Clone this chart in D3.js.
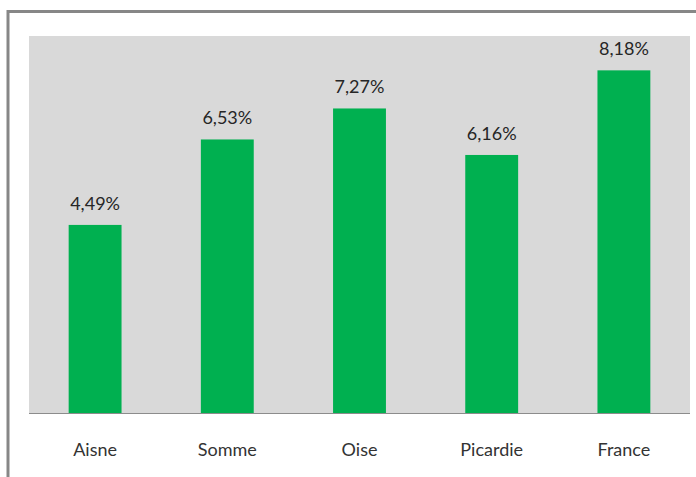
<!DOCTYPE html>
<html>
<head>
<meta charset="utf-8">
<script src="https://cdn.jsdelivr.net/npm/d3@7"></script>
<style>
  html, body { margin: 0; padding: 0; background: #ffffff; }
  svg { display: block; }
</style>
</head>
<body>
<script>
// Taux par territoire
const categories = ["Aisne", "Somme", "Oise", "Picardie", "France"];
const values = [4.49, 6.53, 7.27, 6.16, 8.18];
const labels = ["4,49%", "6,53%", "7,27%", "6,16%", "8,18%"];

const W = 696, H = 477;
const plot = { left: 29, top: 36, right: 690, bottom: 413 };
const FONT = "Lato, 'Open Sans', sans-serif";

const svg = d3.select("body").append("svg")
  .attr("width", W).attr("height", H);

// outer chart frame (runs past the right and bottom edges)
svg.append("rect")
  .attr("x", 8).attr("y", 11.5)
  .attr("width", 720).attr("height", 500)
  .attr("fill", "#ffffff")
  .attr("stroke", "#878787").attr("stroke-width", 3);

// plot area background
svg.append("rect")
  .attr("x", plot.left).attr("y", plot.top)
  .attr("width", plot.right - plot.left).attr("height", plot.bottom - plot.top)
  .attr("fill", "#d9d9d9");

const x = d3.scaleBand()
  .domain(categories)
  .range([plot.left, plot.right])
  .paddingInner(0.6).paddingOuter(0.3);

const y = d3.scaleLinear().domain([0, 9]).range([plot.bottom, plot.top]);

const data = categories.map((c, i) => ({ c, v: values[i], l: labels[i] }));

svg.append("g").selectAll("rect").data(data).join("rect")
  .attr("x", d => x(d.c))
  .attr("y", d => y(d.v))
  .attr("width", x.bandwidth())
  .attr("height", d => y(0) - y(d.v))
  .attr("fill", "#00b050");

// value labels above bars
svg.append("g").selectAll("text").data(data).join("text")
  .attr("x", d => x(d.c) + x.bandwidth() / 2)
  .attr("y", d => y(d.v) - 15)
  .attr("text-anchor", "middle")
  .attr("font-family", FONT)
  .attr("font-size", 18)
  .attr("fill", "#262626")
  .text(d => d.l);

// category axis
const xAxis = svg.append("g")
  .attr("transform", `translate(0,${plot.bottom})`)
  .call(d3.axisBottom(x).tickSize(0));
xAxis.select(".domain").attr("stroke", "#8c8c8c").attr("d", `M${plot.left},0.5H${plot.right}`);
xAxis.selectAll("text")
  .attr("y", 43).attr("dy", null)
  .attr("font-family", FONT)
  .attr("font-size", 18)
  .attr("fill", "#333333");
</script>
</body>
</html>
